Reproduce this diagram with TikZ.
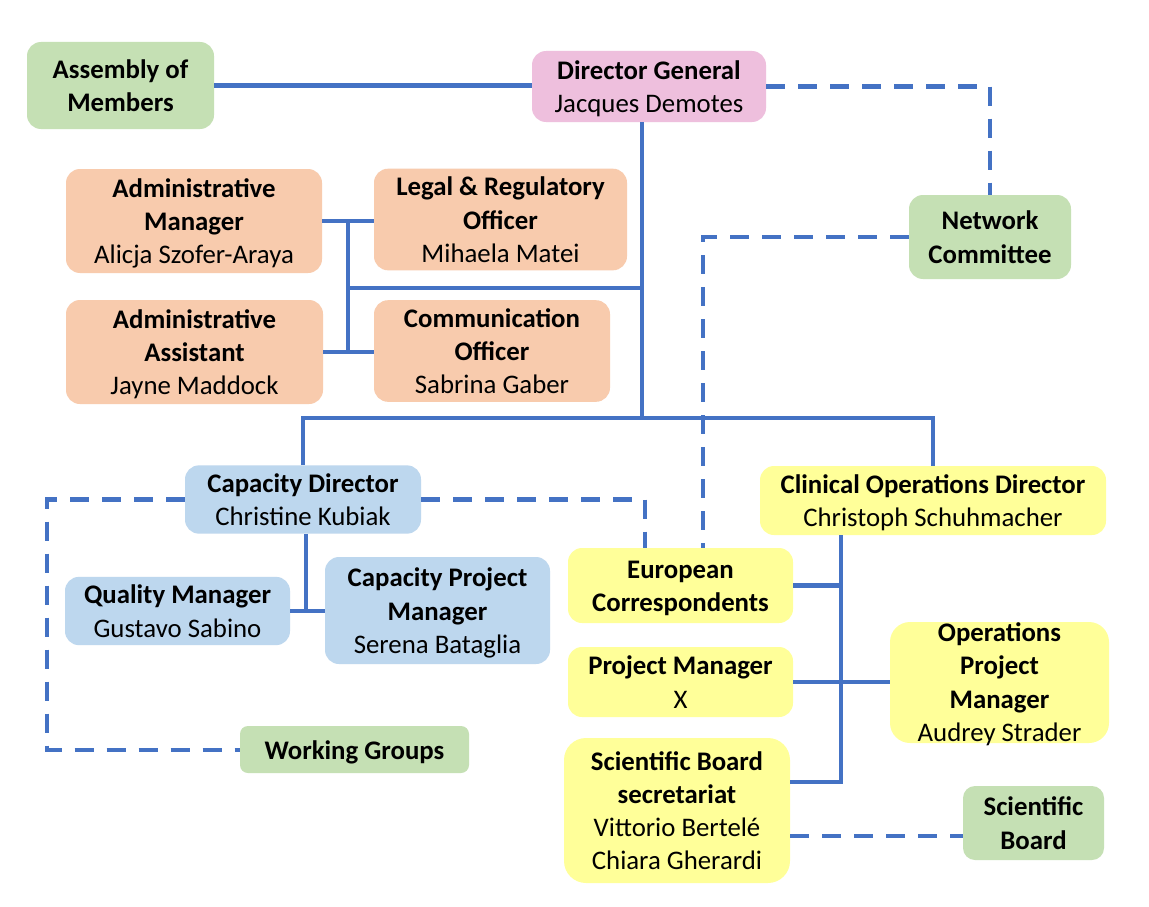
\documentclass[tikz,border=0pt]{standalone}
\usepackage{fontspec}
\setmainfont{Carlito}
\definecolor{cgreen}{HTML}{C5E0B4}
\definecolor{cpink}{HTML}{EEBFDD}
\definecolor{corange}{HTML}{F8CBAD}
\definecolor{cblue}{HTML}{BDD7EE}
\definecolor{cyellow}{HTML}{FFFF99}
\definecolor{cline}{HTML}{4472C4}
\newcommand{\tS}{\rule{0pt}{27pt}}
\newcommand{\bS}{\rule[-8pt]{0pt}{8pt}}
\begin{document}
\begin{tikzpicture}[x=1pt,y=-1pt,
  box/.style={rounded corners=14pt, inner sep=0pt, align=center, text=black,
    font=\fontsize{26.8}{33.3}\selectfont},
  sz/.style 2 args={minimum width=#1 pt, minimum height=#2 pt},
  ln/.style={draw=cline, line width=4.4pt},
  dsh/.style={draw=cline, line width=4.4pt, dash pattern=on 19pt off 13pt}]
\fill[white] (0,0) rectangle (1149,907);
\useasboundingbox (0,0) rectangle (1149,907);

% nodes
\node[box, fill=cgreen, sz={187}{87}] (am) at (120.5,85.5) {\tS\textbf{Assembly of}\\\textbf{Members}\bS};
\node[box, fill=cpink, sz={234}{71}] (dg) at (649,86.5) {\tS\textbf{Director General}\\Jacques Demotes\bS};
\node[box, fill=cgreen, sz={162}{84}] (nc) at (990,237) {\tS\textbf{Network}\\\textbf{Committee}\bS};
\node[box, fill=corange, sz={256}{104}] (amg) at (194,221) {\tS\textbf{Administrative}\\\textbf{Manager}\\Alicja Szofer-Araya\bS};
\node[box, fill=corange, sz={253}{99}] (lg) at (500.5,219.5) {\tS\textbf{Legal \& Regulatory}\\\textbf{Officer}\\Mihaela Matei\bS};
\node[box, fill=corange, sz={257}{104}] (aa) at (194.5,352) {\tS\textbf{Administrative}\\\textbf{Assistant}\\Jayne Maddock\bS};
\node[box, fill=corange, sz={236}{100}] (co) at (492,351) {\tS\textbf{Communication}\\\textbf{Officer}\\Sabrina Gaber\bS};
\node[box, fill=cblue, sz={236}{64}] (cd) at (303,499.5) {\tS\textbf{Capacity Director}\\Christine Kubiak\bS};
\node[box, fill=cblue, sz={225}{64}] (qm) at (177.5,611) {\tS\textbf{Quality Manager}\\Gustavo Sabino\bS};
\node[box, fill=cblue, sz={225}{107}] (cpm) at (437.5,610.5) {\tS\textbf{Capacity Project}\\\textbf{Manager}\\Serena Bataglia\bS};
\node[box, fill=cgreen, sz={229}{47}, rounded corners=8pt] (wg) at (354.5,749.5) {\tS\textbf{Working Groups}\bS};
\node[box, fill=cyellow, sz={346}{69}] (cod) at (933,500.5) {\tS\textbf{Clinical Operations Director}\\Christoph Schuhmacher\bS};
\node[box, fill=cyellow, sz={225}{75}] (ec) at (680.5,585.5) {\tS\textbf{European}\\\textbf{Correspondents}\bS};
\node[box, fill=cyellow, sz={225}{70}] (pm) at (680.5,682) {\tS\textbf{Project Manager}\\X\bS};
\node[box, fill=cyellow, sz={226}{145}, rounded corners=22pt] (sbs) at (677,810.5) {\tS\textbf{Scientific Board}\\\textbf{secretariat}\\Vittorio Bertelé\\Chiara Gherardi\bS};
\node[box, fill=cyellow, sz={219}{121}, rounded corners=20pt] (opm) at (999.5,682.5) {\raisebox{-8.5pt}[0pt][0pt]{\begin{tabular}{@{}c@{}}\textbf{Operations}\\\textbf{Project}\\\textbf{Manager}\\Audrey Strader\end{tabular}}};
\node[box, fill=cgreen, sz={141}{74}, rounded corners=12pt] (sb) at (1033.5,823) {\tS\textbf{Scientific}\\\textbf{Board}\bS};

% junction coordinates
\coordinate (trk) at (642,418);
\coordinate (aj) at (348,288);
\coordinate (cdj) at (306,611);
\coordinate (lc) at (47,750);
\coordinate (ecl) at (645,548);
\coordinate (ncd) at (703,548);
\coordinate (cj) at (841,535);
\coordinate (cb) at (841,782);
\coordinate (sbd) at (790,836);

% solid connectors
\draw[ln] (am.east) -- (am.east -| dg.west);
\draw[ln] (trk |- dg.south) -- (trk);
\draw[ln] (cd.north) |- (trk) -| (cod.north);
\draw[ln] (amg.east) -- (amg.east -| lg.west);
\draw[ln] (aj |- amg.east) -- (aj |- aa.east);
\draw[ln] (aa.east) -- (aa.east -| co.west);
\draw[ln] (aj) -- (aj -| trk);
\draw[ln] (cdj |- cd.south) -- (cdj);
\draw[ln] (qm.east) -- (qm.east -| cpm.west);
\draw[ln] (cj) -- (cb) -- (cb -| sbs.east);
\draw[ln] (ec.east) -- (ec.east -| cj);
\draw[ln] (pm.east) -- (pm.east -| opm.west);

% dashed connectors
\draw[dsh] (dg.east) -| (nc.north);
\draw[dsh] (nc.west) -| (ncd);
\draw[dsh] (cd.west) -| (lc) -- (lc -| wg.west);
\draw[dsh] (cd.east) -| (ecl);
\draw[dsh] (sbd) -- (sbd -| sb.west);
\end{tikzpicture}
\end{document}
